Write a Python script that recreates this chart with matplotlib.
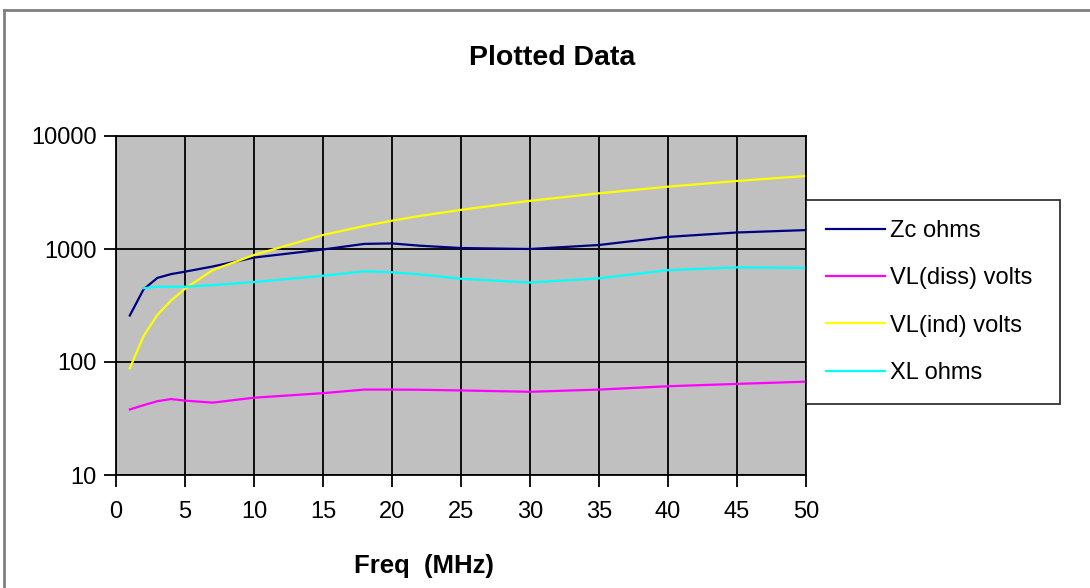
import matplotlib.pyplot as plt
import numpy as np

plt.rcParams['font.family'] = ['Liberation Sans', 'DejaVu Sans']

# frequencies (MHz)
freq = [1, 2, 3, 4, 5, 7, 10, 15, 18, 20, 22, 25, 30, 35, 40, 45, 50]

zc_ohms = [258, 440, 555, 600, 630, 700, 840, 990, 1110, 1120, 1070, 1020, 1000, 1085, 1280, 1400, 1470]
vl_diss = [38, 41.5, 45, 47, 45.5, 43.7, 48.3, 53, 57, 57, 56.8, 56, 54.5, 57, 61, 64, 67]
vl_ind = [88, 170, 262, 350, 445, 650, 885, 1330, 1600, 1780, 1960, 2220, 2670, 3110, 3560, 4000, 4430]
xl_ohms = [np.nan, 449, 464, 464, 464, 479, 510, 580, 635, 622, 597, 545, 505, 550, 650, 688, 680]

labels = ['Zc ohms', 'VL(diss) volts', 'VL(ind) volts', 'XL ohms']
colors = ['#000080', '#FF00FF', '#FFFF00', '#00FFFF']

W, H = 1090, 588
fig = plt.figure(figsize=(W / 100, H / 100), dpi=100)
ax = fig.add_axes([116 / W, 1 - 475 / H, 690 / W, 339 / H])
ax.set_facecolor('#C0C0C0')

for ys, lab, c in zip([zc_ohms, vl_diss, vl_ind, xl_ohms], labels, colors):
    ax.plot(freq, ys, color=c, lw=1.6, label=lab)

ax.set_yscale('log')
ax.set_ylim(10, 10000)
ax.set_xlim(0, 50)
ax.set_xticks(np.arange(0, 51, 5))
ax.set_yticks([10, 100, 1000, 10000])
ax.set_yticklabels(['10', '100', '1000', '10000'])
ax.minorticks_off()
ax.grid(True, color='black', lw=1.3)
ax.set_axisbelow(True)
for s in ax.spines.values():
    s.set_color('black')
    s.set_linewidth(1.3)
ax.tick_params(direction='out', length=8.5, width=1.3, labelsize=17, colors='black')
ax.tick_params(axis='y', pad=5.5)
ax.tick_params(axis='x', pad=10)

fig.text(552 / W, 1 - 58 / H, 'Plotted Data', ha='center', va='center',
         fontsize=20.5, fontweight='bold')
fig.text(424 / W, 1 - 566 / H, 'Freq  (MHz)', ha='center', va='center',
         fontsize=18.5, fontweight='bold')

# legend box spans x 806..1060 px, top at 200 px
leg = ax.legend(loc='upper left', bbox_to_anchor=(806 / W, 1 - 402 / H, 254 / W, 202 / H),
                bbox_transform=fig.transFigure, mode='expand', fontsize=17, frameon=True,
                fancybox=False, handlelength=2.5, handletextpad=0.2,
                labelspacing=1.07, borderpad=0.85, borderaxespad=0)
leg.get_frame().set_edgecolor('black')
leg.get_frame().set_linewidth(1.3)

# outer chart border (top and left visible)
fig.add_artist(plt.Line2D([4 / W, 1], [1 - 10 / H, 1 - 10 / H], color='#808080', lw=2,
                          transform=fig.transFigure))
fig.add_artist(plt.Line2D([4 / W, 4 / W], [0, 1 - 10 / H], color='#808080', lw=2,
                          transform=fig.transFigure))

fig.savefig('out.png', dpi=100)
